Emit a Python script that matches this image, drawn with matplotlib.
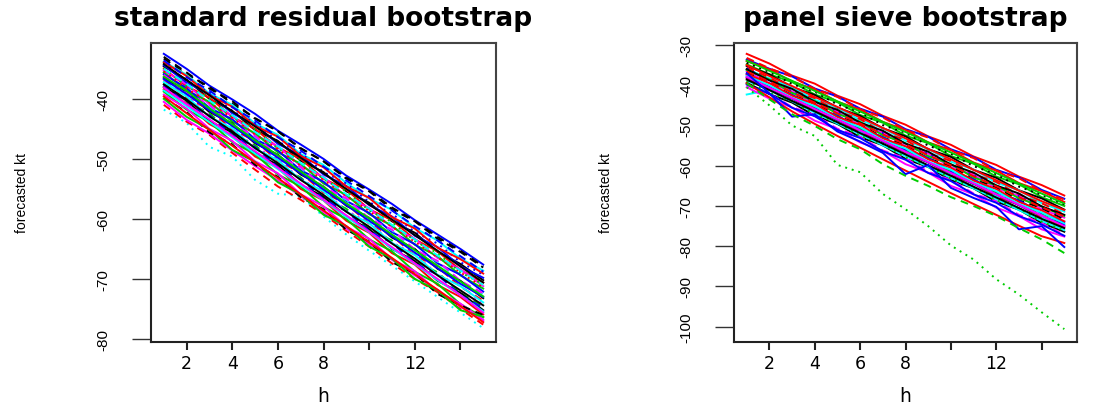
import matplotlib.pyplot as plt

h = list(range(1, 16))

# standard residual bootstrap: forecast paths
std_paths = [
    [-32.5, -35.0, -37.8, -40.1, -42.5, -45.3, -47.6, -50.0, -52.8, -55.1, -57.5, -60.2, -62.6, -65.0, -67.6],
    [-33.3, -35.9, -38.0, -40.8, -43.2, -45.4, -48.2, -50.4, -53.1, -55.3, -58.1, -60.3, -63.0, -65.3, -67.9],
    [-33.8, -36.0, -39.1, -41.0, -44.1, -46.0, -49.2, -51.0, -54.0, -56.6, -58.5, -61.5, -63.6, -66.6, -68.6],
    [-34.0, -37.0, -38.9, -42.0, -44.0, -47.1, -49.0, -52.2, -54.1, -57.2, -59.1, -62.2, -64.1, -67.2, -69.3],
    [-34.6, -36.8, -40.0, -42.0, -45.2, -47.0, -50.3, -52.2, -55.4, -57.3, -60.4, -62.3, -65.5, -67.5, -70.2],
    [-35.0, -37.9, -39.8, -43.0, -45.0, -48.1, -50.0, -53.3, -55.1, -58.4, -60.2, -63.4, -65.4, -68.5, -70.6],
    [-35.3, -37.6, -40.9, -42.8, -46.0, -47.9, -51.2, -53.0, -56.3, -58.2, -61.4, -63.3, -66.5, -68.4, -71.2],
    [-35.6, -38.6, -40.5, -43.8, -45.7, -48.9, -50.8, -54.1, -56.0, -59.2, -61.1, -64.3, -66.2, -69.4, -71.6],
    [-35.9, -38.2, -41.5, -43.4, -46.7, -48.6, -51.9, -53.8, -57.0, -59.0, -62.2, -64.2, -67.4, -69.3, -72.1],
    [-36.2, -39.3, -41.2, -44.4, -46.3, -49.6, -51.5, -54.8, -56.8, -60.0, -61.9, -65.2, -67.1, -70.4, -72.5],
    [-36.5, -38.8, -42.2, -44.1, -47.4, -49.3, -52.6, -54.6, -57.8, -59.8, -63.1, -65.0, -68.3, -70.3, -73.2],
    [-36.8, -39.8, -41.8, -45.1, -47.0, -50.3, -52.3, -55.6, -57.5, -60.8, -62.8, -66.1, -68.0, -71.3, -73.6],
    [-37.0, -39.4, -42.8, -44.8, -48.1, -50.0, -53.4, -55.3, -58.6, -60.6, -63.9, -65.9, -69.2, -71.2, -74.1],
    [-37.4, -40.4, -42.4, -45.8, -47.7, -51.0, -53.1, -56.4, -58.3, -61.7, -63.6, -67.0, -68.9, -72.3, -74.6],
    [-38.0, -40.3, -43.7, -45.6, -49.0, -51.0, -54.3, -56.3, -59.6, -61.7, -65.0, -67.0, -70.3, -72.3, -75.2],
    [-37.7, -40.8, -42.7, -46.1, -48.0, -51.4, -53.3, -56.7, -58.7, -62.0, -64.0, -67.4, -69.3, -72.7, -74.8],
    [-38.4, -40.8, -44.2, -46.2, -49.6, -51.5, -55.0, -56.9, -60.3, -62.3, -65.7, -67.6, -71.0, -73.0, -75.9],
    [-38.8, -41.8, -43.8, -47.2, -49.2, -52.6, -54.6, -58.0, -60.0, -63.4, -65.4, -68.8, -70.8, -74.2, -76.4],
    [-39.3, -41.6, -45.0, -47.0, -50.4, -52.4, -55.9, -57.9, -61.3, -63.3, -66.7, -68.7, -72.1, -74.1, -76.8],
    [-41.8, -44.0, -48.0, -49.6, -53.5, -55.8, -56.2, -59.6, -62.6, -65.3, -67.8, -70.4, -73.0, -75.6, -78.2],
    [-41.0, -43.8, -46.0, -49.0, -51.8, -54.6, -56.8, -59.2, -62.0, -64.6, -67.4, -70.0, -72.2, -75.0, -77.6],
    [-40.5, -43.5, -45.8, -48.6, -51.2, -53.6, -56.2, -58.8, -61.6, -64.2, -66.8, -69.4, -71.8, -74.6, -77.0],
    [-39.8, -42.2, -45.6, -47.6, -51.0, -53.0, -56.4, -58.4, -61.8, -63.8, -67.2, -69.1, -72.5, -74.4, -76.0],
    [-40.0, -43.0, -45.1, -48.5, -50.5, -53.9, -55.9, -59.3, -61.2, -64.6, -66.6, -70.0, -71.9, -75.2, -76.3],
    [-34.4, -37.3, -39.2, -42.4, -44.3, -47.5, -49.4, -52.6, -54.5, -57.7, -59.6, -62.8, -64.7, -67.9, -69.8],
    [-37.2, -39.6, -43.0, -44.9, -48.3, -50.2, -53.5, -55.4, -58.8, -60.7, -64.0, -66.0, -69.3, -71.2, -73.9],
    [-36.0, -39.0, -41.0, -44.3, -46.2, -49.5, -51.4, -54.7, -56.6, -59.9, -61.8, -65.1, -67.0, -70.3, -72.4],
    [-33.9, -36.2, -39.4, -41.3, -44.5, -46.3, -49.5, -51.4, -54.6, -56.5, -59.7, -61.6, -64.8, -66.7, -69.1],
    [-34.9, -37.9, -39.9, -43.1, -45.1, -48.3, -50.2, -53.4, -55.4, -58.6, -60.5, -63.7, -65.7, -68.9, -70.9],
    [-33.0, -35.6, -38.3, -40.4, -43.3, -45.4, -48.3, -50.4, -53.3, -55.4, -58.4, -60.4, -63.3, -65.5, -68.1],
    [-35.4, -38.3, -40.6, -43.2, -45.9, -48.4, -51.1, -53.5, -56.2, -58.7, -61.3, -63.8, -66.4, -68.9, -71.4],
    [-38.6, -41.2, -43.9, -46.4, -49.1, -51.7, -54.4, -56.9, -59.7, -62.2, -64.9, -67.5, -70.2, -72.7, -75.4],
    [-36.7, -39.2, -41.9, -44.5, -47.2, -49.8, -52.4, -55.1, -57.7, -60.3, -62.9, -65.6, -68.2, -70.8, -73.0],
    [-37.6, -40.1, -42.9, -45.4, -48.2, -50.7, -53.5, -56.0, -58.8, -61.3, -64.1, -66.6, -69.4, -71.9, -74.4],
    [-36.3, -38.7, -41.6, -44.2, -46.9, -49.4, -52.1, -54.7, -57.4, -59.9, -62.6, -65.2, -67.8, -70.4, -72.9],
    [-38.1, -40.9, -43.4, -46.2, -48.7, -51.5, -54.1, -56.8, -59.4, -62.1, -64.7, -67.4, -70.0, -72.7, -75.6],
    [-33.6, -36.4, -38.6, -41.4, -43.6, -46.4, -48.6, -51.3, -53.6, -56.2, -58.6, -61.2, -63.6, -66.2, -68.8],
    [-39.6, -42.4, -45.2, -47.8, -50.6, -53.2, -55.9, -58.6, -61.2, -63.9, -66.5, -69.2, -71.8, -74.5, -77.2],
    [-34.2, -36.9, -39.4, -42.1, -44.6, -47.2, -49.8, -52.4, -55.0, -57.6, -60.1, -62.7, -65.3, -67.9, -70.6],
    [-35.0, -37.5, -40.3, -42.7, -45.5, -47.9, -50.7, -53.1, -55.9, -58.3, -61.0, -63.4, -66.1, -68.6, -71.0],
]

# panel sieve bootstrap: forecast paths
sieve_paths = [
    [-32.2, -34.6, -37.6, -39.6, -42.6, -44.7, -47.6, -49.8, -52.7, -54.8, -57.7, -59.8, -62.7, -64.8, -67.4],
    [-33.6, -35.9, -37.8, -40.8, -42.8, -45.8, -47.8, -50.9, -52.8, -55.9, -57.9, -61.0, -62.9, -66.0, -68.2],
    [-34.0, -36.0, -39.1, -41.0, -44.1, -46.0, -49.1, -51.1, -54.2, -56.1, -59.2, -61.2, -64.3, -66.3, -69.0],
    [-34.8, -37.3, -39.2, -42.3, -44.2, -47.4, -49.3, -52.5, -54.4, -57.6, -59.5, -62.7, -64.6, -67.8, -70.0],
    [-35.2, -37.3, -40.5, -42.4, -45.6, -47.6, -50.7, -52.7, -55.9, -57.8, -61.0, -63.0, -66.1, -68.1, -70.9],
    [-36.0, -38.3, -40.5, -43.6, -45.5, -48.7, -50.6, -53.8, -55.8, -59.0, -60.9, -64.2, -66.1, -69.3, -71.4],
    [-35.6, -38.1, -41.3, -43.2, -46.5, -48.4, -51.7, -53.6, -56.9, -58.8, -62.1, -64.0, -67.3, -69.3, -72.1],
    [-36.5, -39.5, -41.5, -44.7, -46.6, -49.9, -51.8, -55.1, -57.0, -60.3, -62.3, -65.6, -67.5, -70.8, -72.9],
    [-36.9, -39.3, -42.5, -44.4, -47.7, -49.7, -53.0, -54.9, -58.2, -60.1, -63.4, -65.3, -68.6, -70.5, -73.4],
    [-37.4, -40.3, -42.3, -45.6, -47.5, -50.8, -52.8, -56.1, -58.0, -61.4, -63.3, -66.6, -68.6, -71.8, -74.0],
    [-37.9, -40.1, -43.5, -45.4, -48.7, -50.7, -54.0, -55.9, -59.3, -61.2, -64.6, -66.5, -69.8, -71.7, -74.6],
    [-38.3, -41.2, -43.2, -46.5, -48.5, -51.8, -53.8, -57.1, -59.1, -62.4, -64.4, -67.7, -69.7, -73.0, -75.2],
    [-38.9, -41.1, -44.4, -46.4, -49.7, -51.7, -55.0, -57.0, -60.3, -62.3, -65.6, -67.6, -71.0, -72.9, -75.8],
    [-39.4, -42.2, -44.3, -47.6, -49.6, -52.9, -54.9, -58.3, -60.3, -63.6, -65.6, -68.9, -70.9, -74.2, -76.4],
    [-40.0, -42.1, -45.4, -47.4, -50.8, -52.8, -56.2, -58.1, -61.5, -63.5, -66.9, -68.8, -72.2, -74.2, -77.2],
    [-42.3, -41.2, -44.0, -46.8, -49.5, -52.2, -54.9, -57.6, -60.3, -63.0, -65.6, -68.3, -71.0, -73.7, -76.0],
    [-35.8, -38.8, -41.5, -44.0, -46.6, -49.2, -51.9, -54.5, -57.1, -59.7, -62.4, -65.0, -67.6, -70.2, -72.7],
    [-36.2, -38.6, -41.9, -43.9, -47.1, -49.1, -52.4, -54.4, -57.6, -59.6, -62.9, -64.9, -68.1, -70.1, -72.5],
    [-33.2, -35.8, -37.9, -40.9, -42.9, -46.0, -48.0, -51.1, -53.0, -56.1, -58.1, -61.2, -63.1, -66.3, -68.4],
    [-34.4, -36.7, -39.7, -41.6, -44.8, -46.7, -49.9, -51.8, -55.0, -57.0, -60.1, -62.1, -65.2, -67.2, -69.6],
    [-40.5, -43.3, -45.5, -48.8, -50.9, -54.2, -56.3, -59.6, -61.7, -65.0, -67.1, -70.4, -72.5, -75.8, -77.6],
    [-37.2, -39.5, -42.6, -44.7, -47.9, -49.9, -53.2, -55.2, -58.4, -60.5, -63.7, -65.8, -69.0, -71.1, -73.8],
    [-39.0, -41.9, -44.0, -47.2, -49.3, -52.6, -54.6, -57.9, -60.0, -63.2, -65.3, -68.6, -70.6, -73.9, -76.1],
    [-39.8, -42.1, -45.6, -47.7, -51.1, -53.1, -56.4, -58.5, -61.8, -63.8, -67.1, -69.2, -72.5, -74.6, -77.4],
    [-36.0, -38.8, -40.9, -44.1, -46.1, -49.3, -51.3, -54.5, -56.5, -59.7, -61.7, -64.9, -66.9, -70.1, -72.2],
    [-37.7, -40.0, -43.1, -45.2, -48.4, -50.4, -53.7, -55.7, -59.0, -61.0, -64.2, -66.3, -69.5, -71.6, -74.4],
    [-35.0, -37.7, -40.2, -42.9, -45.4, -48.0, -50.6, -53.2, -55.8, -58.4, -61.0, -63.6, -66.2, -68.8, -71.0],
    [-38.0, -40.6, -43.3, -45.9, -48.6, -51.2, -53.9, -56.5, -59.2, -61.8, -64.5, -67.1, -69.8, -72.4, -74.8],
    [-37.9, -40.6, -43.2, -45.9, -48.5, -51.2, -53.8, -56.5, -59.1, -61.8, -64.4, -67.1, -69.7, -72.4, -75.0],
    [-33.9, -36.4, -38.9, -41.4, -44.0, -46.5, -49.1, -51.6, -54.2, -56.7, -59.3, -61.8, -64.4, -66.9, -69.4],
    [-38.6, -41.2, -43.9, -46.5, -49.2, -51.9, -54.5, -57.2, -59.9, -62.5, -65.2, -67.9, -70.5, -73.2, -75.5],
    [-36.6, -39.1, -41.8, -44.3, -47.0, -49.5, -52.2, -54.7, -57.4, -59.9, -62.6, -65.1, -67.8, -70.3, -72.6],
    [-39.5, -43.0, -46.5, -49.6, -52.6, -55.5, -58.4, -61.2, -64.0, -66.8, -69.5, -72.2, -74.9, -77.5, -79.2],
    [-37.0, -42.0, -47.8, -47.2, -51.5, -54.0, -56.8, -62.1, -59.8, -65.5, -68.0, -70.2, -75.8, -75.0, -80.2],
    [-39.5, -43.5, -47.2, -50.1, -53.4, -55.9, -59.6, -62.5, -65.0, -67.8, -70.0, -72.5, -75.5, -78.3, -81.7],
    [-40.5, -45.0, -50.0, -52.6, -59.8, -61.6, -67.0, -70.8, -75.0, -79.8, -83.3, -88.2, -92.0, -96.4, -100.6],
]

std_colors = ['b', 'k', 'c', 'b', 'k', 'r', 'm', 'g', 'b', 'c', 'k', 'r', 'm', 'g', 'k',
              'b', 'r', 'g', 'm', 'c', 'r', 'm', 'k', 'g', 'b', 'c', 'm', 'r', 'g', 'k',
              'r', 'c', 'b', 'k', 'g', 'm', 'b', 'r', 'k', 'c']
std_styles = ['-', '--', '-', ':', '-', '-', '-', '-', '-', '--', '-', '--', ':', '--', '-',
              '--', '-', '-', '-', ':', '--', '-', '--', '-', '-', '-', '--', '-', ':', '--',
              ':', '-', '-', '-', '-', '-', '--', '-', '-', '--']
sieve_colors = ['r', 'b', 'r', 'g', 'k', 'c', 'r', 'm', 'k', 'b', 'g', 'r', 'c', 'k', 'm',
                'c', 'b', 'g', 'r', 'k', 'm', 'r', 'g', 'b', 'k', 'c', 'r', 'b', 'm', 'g',
                'k', 'r', 'r', 'b', 'g', 'g']
sieve_styles = ['-', '-', '-', '-', '-', '-', '--', '-', '--', '-', '--', '-', '--', '-', '--',
                '-', ':', '-', '--', ':', '-', '-', ':', '-', '-', '-', '-', '-', '-', '-',
                '-', '--', '-', '-', '--', ':']

pal = {'k': '#000000', 'r': '#FF0000', 'g': '#00CD00', 'b': '#0000FF', 'c': '#00FFFF', 'm': '#FF00FF'}
dash = {'-': '-', '--': (0, (4, 3)), ':': (0, (1, 2.5)), '-.': (0, (1, 3, 4, 3))}

lab_font = ['Liberation Sans', 'DejaVu Sans']

xticks = [2, 4, 6, 8, 10, 12, 14]
xlabels = ['2', '4', '6', '8', '', '12', '']
std_yticks = [-40, -50, -60, -70, -80]
sieve_yticks = [-30, -40, -50, -60, -70, -80, -90, -100]

fig = plt.figure(figsize=(11.11, 4.06), dpi=100)
ax1 = fig.add_axes([151 / 1111, 63 / 406, 345 / 1111, 299 / 406])
ax2 = fig.add_axes([734 / 1111, 63 / 406, 343 / 1111, 299 / 406])


def panel(ax, paths, cols, stys, yticks, ylim, title):
    for p, c, s in zip(paths, cols, stys):
        ax.plot(h, p, color=pal[c], linestyle=dash[s], lw=1.4)
    ax.set_xlim(0.44, 15.56)
    ax.set_ylim(*ylim)
    ax.set_xticks(xticks)
    ax.set_xticklabels(xlabels, fontsize=12.5, family='DejaVu Sans')
    ax.set_yticks(yticks)
    ax.set_yticklabels([str(v) for v in yticks], fontsize=11, family=lab_font,
                       rotation=90, va='center')
    ax.tick_params(axis='y', length=14, width=1, pad=15, color='#333333')
    ax.tick_params(axis='x', length=6, width=1.5, pad=3, color='#222222')
    for sp in ax.spines.values():
        sp.set_linewidth(1.5)
        sp.set_color('#444444')
    ax.spines['left'].set_color('#222222')
    ax.spines['bottom'].set_color('#222222')
    ax.set_xlabel('h', fontsize=13.5, labelpad=10)
    ax.set_ylabel('forecasted kt', fontsize=10, family=lab_font)
    ax.yaxis.set_label_coords(-129 / 345, 0.5)
    ax.yaxis.label.set_va('center')
    ax.set_title(title, fontsize=19, fontweight='bold', pad=13)


panel(ax1, std_paths, std_colors, std_styles, std_yticks, (-80.5, -30.7),
      'standard residual bootstrap')
panel(ax2, sieve_paths, sieve_colors, sieve_styles, sieve_yticks, (-103.8, -29.5),
      'panel sieve bootstrap')

fig.savefig('out.png', dpi=100)
